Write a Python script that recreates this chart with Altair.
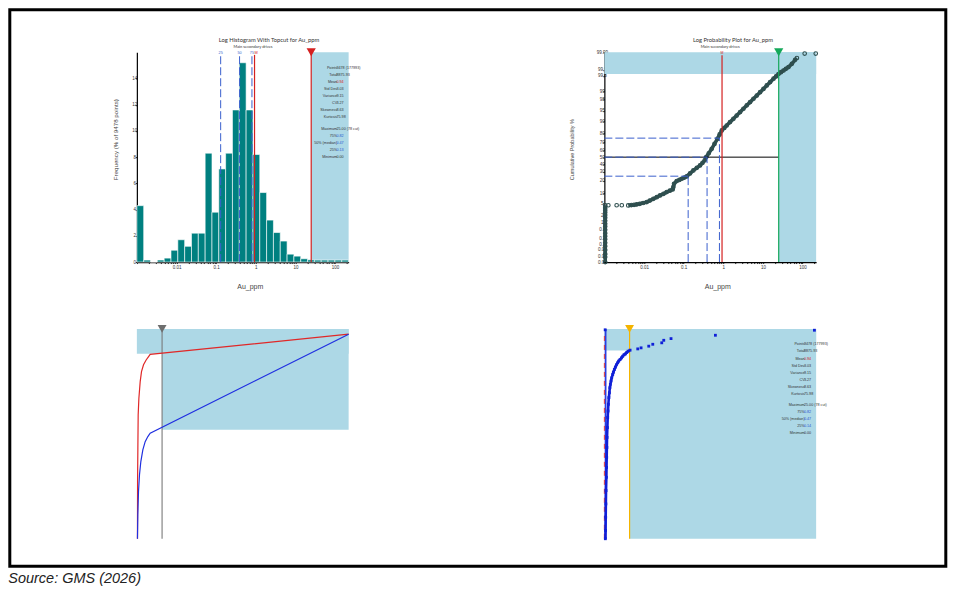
import altair as alt
import pandas as pd
from statistics import NormalDist

FONT = "Liberation Sans"
TFONT = "Lato"
W, H = 212, 210

# ---------------- shared values ----------------
TOPCUT = 25.0
MEAN_AU = 0.93
LOG_DOMAIN = [0.001, 220.0]
LIN_DOMAIN = [0.0, 210.0]
quart_vals = [0.13, 0.39, 0.80]
quart_pcts = [25.0, 50.0, 75.0]
quart_tags = ["25", "50", "75"]

# ---------------- top-left: log histogram ----------------
hist_edges = [0.001, 0.001487, 0.002211, 0.003287, 0.004887, 0.007266, 0.0108, 0.01606,
              0.02388, 0.03551, 0.0528, 0.0785, 0.1167, 0.1735, 0.258, 0.3836, 0.5703,
              0.848, 1.261, 1.875, 2.787, 4.144, 6.162, 9.162, 13.62, 20.25, 30.11,
              44.77, 66.56, 98.97, 147.1, 218.8]
hist_freq = [4.3, 0.15, 0.0, 0.15, 0.3, 0.9, 1.7, 1.2, 2.2, 2.2, 8.3, 3.8, 7.1, 8.3,
             11.6, 15.2, 11.6, 8.2, 5.3, 3.2, 2.25, 1.6, 0.6, 0.45, 0.25, 0.17, 0.15,
             0.15, 0.15, 0.15, 0.15]
HIST_YMAX = 16
hist_yticks = [0, 2, 4, 6, 8, 10, 12, 14]

# ---------------- top-right: log probability plot ----------------
prob_tick_pcts = [0.01, 0.02, 0.05, 0.1, 0.2, 0.5, 1, 2, 5, 10, 20, 30, 40, 50, 60, 70,
                  80, 90, 95, 98, 99, 99.8, 99.9, 99.99]
prob_tick_labels = ["0.01", "0.02", "0.05", "0.1", "0.2", "0.5", "1", "2", "5", "10", "20",
                    "30", "40", "50", "60", "70", "80", "90", "95", "98", "99", "99.8",
                    "99.9", "99.99"]
PP_CUT_PCT = 99.84
pp_x = ([0.00105] * 19 +
        [0.00126, 0.00204, 0.00275] +
        [0.0040, 0.0048, 0.0056, 0.0065, 0.0078, 0.0095, 0.0117, 0.0140, 0.0172, 0.0210,
         0.0254, 0.0310, 0.0373, 0.0450, 0.0529, 0.0550, 0.0572, 0.0668, 0.0780, 0.0894,
         0.1040, 0.1197, 0.145, 0.176, 0.215, 0.259, 0.30, 0.34, 0.37, 0.43, 0.511, 0.60,
         0.711, 0.81, 0.915, 1.06, 1.22, 1.48, 1.80, 2.18, 2.66, 3.22, 3.92, 4.75, 5.77,
         7.0, 8.49, 10.3, 12.5, 15.2, 18.5, 21.4, 24.7, 28.5, 33.0, 38.0, 44.2, 53.7,
         64.9, 72.0] +
        [113.0, 215.0])
pp_p = ([0.01, 0.02, 0.03, 0.05, 0.08, 0.12, 0.18, 0.25, 0.35, 0.5, 0.7, 0.9, 1.2, 1.6,
         2.0, 2.5, 3.0, 3.6, 4.34] +
        [4.4, 4.4, 4.4] +
        [4.34, 4.45, 4.55, 4.68, 4.9, 5.2, 5.54, 6.2, 6.99, 7.8, 8.72, 9.7, 10.75, 11.7,
         12.6, 14.5, 17.3, 19.8, 21.0, 22.2, 23.4, 24.7, 28.2, 31.9, 35.2, 38.4, 42.0,
         45.5, 50.0, 55.5, 61.6, 68.0, 74.2, 79.0, 82.8, 85.0, 86.9, 89.3, 91.3, 93.0,
         94.5, 95.7, 96.7, 97.45, 98.08, 98.55, 98.94, 99.22, 99.45, 99.61, 99.73, 99.79,
         99.84, 99.87, 99.894, 99.913, 99.930, 99.953, 99.972, 99.978] +
        [99.988, 99.988])
pp_seg = [0] * 19 + [2] * 3 + [1] * 60 + [2] * 2

# ---------------- bottom-left: cumulative curves ----------------
bl_red_x = [0.6, 0.7, 1.0, 1.3, 2.0, 3.3, 4.6, 6.6, 9.2, 11.6, 13.2, 210.0]
bl_red_y = [0, 27.3, 43.2, 59.0, 67.0, 74.9, 79.7, 82.9, 85.2, 86.8, 87.9, 97.5]
bl_blue_x = [0.6, 0.96, 1.62, 2.61, 3.94, 5.92, 8.24, 10.9, 13.2, 210.0]
bl_blue_y = [0, 11.4, 22.5, 30.5, 36.8, 42.4, 46.3, 48.7, 50.3, 97.5]
BL_RED_CUT = 88.2
BL_BLUE_CUT = 52.0

# ---------------- bottom-right: sorted values ----------------
br_x = [0.99, 1.16, 1.32, 1.49, 1.65, 1.98, 2.15, 2.31, 2.48, 2.65, 2.98, 3.31, 3.64, 3.97,
        4.46, 4.96, 5.46, 5.95, 6.61, 7.27, 8.27, 8.93, 9.92, 10.9, 11.9, 13.2, 14.2, 15.5,
        16.9, 18.2, 19.5, 20.8, 22.2, 23.5, 25.5,
        33.1, 36.4, 44.0, 48.0, 56.9, 58.9, 66.1, 110.1, 208.3, 0.8]
br_y = [0, 3.96, 10.3, 16.6, 22.96, 29.3, 34.0, 38.8, 43.5, 48.3, 53.0, 57.8, 60.9, 64.1,
        67.3, 69.6, 72.0, 73.6, 75.2, 76.7, 78.3, 79.4, 80.7, 81.8, 82.9, 83.9, 84.7, 85.4,
        86.2, 87.0, 87.7, 88.1, 88.8, 89.4, 89.9,
        90.5, 91.0, 91.8, 92.7, 93.4, 94.6, 95.4, 97.0, 99.4, 99.6]
br_seg = [1] * 35 + [2] * 10
BR_CUT = 89.7

# ---------------- statistics block ----------------
stat_labels = ["Points", "Total", "Mean", "Std Dev", "Variance", "CV", "Skewness",
               "Kurtosis", "Maximum", "75%", "50% (median)", "25%", "Minimum"]
stat_kinds = ["plain", "plain", "mean", "plain", "plain", "plain", "plain", "plain",
              "plain", "quart", "quart", "quart", "plain"]
stat_values_tl = ["9478 (177993)", "8875.93", "0.94", "3.03", "9.15", "3.27", "8.63",
                  "75.98", "25.00 (78 cut)", "0.82", "0.47", "0.13", "0.00"]
stat_values_br = ["9478 (177993)", "8875.93", "0.94", "3.03", "9.15", "3.27", "8.63",
                  "75.98", "25.00 (78 cut)", "0.82", "0.47", "0.14", "0.00"]

RED = "#D42020"
QBLUE = "#3A5FCD"
LBLUE = "#ADD8E6"
GREEN = "#14A85A"
GOLD = "#F4B400"
GRAY = "#7A7A7A"
TEAL = "#008080"
SLATE = "#2F4F4F"

nd = NormalDist()


def zval(p):
    return round(nd.inv_cdf(p / 100.0), 4)


ZMIN, ZMAX = zval(0.01), zval(99.99)
prob_ticks = [zval(p) for p in prob_tick_pcts]

log_ticks = sorted({round(m * 10.0 ** e, 6) for e in range(-3, 3) for m in range(1, 10)
                    if LOG_DOMAIN[0] <= m * 10.0 ** e <= LOG_DOMAIN[1]})
log_label_expr = ("indexof([0.01,0.1,1,10,100], datum.value) >= 0 ? "
                  "format(datum.value, '~g') : ''")


def log_axis():
    return alt.Axis(values=log_ticks, labelExpr=log_label_expr, labelOverlap=False,
                    labelFontSize=4.5, labelColor="#333", labelPadding=1, tickSize=1.5,
                    tickColor="#222", domainColor="black", domainWidth=1.2, grid=False,
                    title="Au_ppm", titleFontSize=7, titleFontWeight="normal",
                    titleColor="#444", titleX=113, titleY=24.5, titleAlign="center",
                    titleBaseline="middle", labelFlush=False)


def one(**kw):
    return pd.DataFrame({k: [v] for k, v in kw.items()})


def text_at(txt, px, py, size, color="#333", font=TFONT, **kw):
    return alt.Chart(one(t=txt)).mark_text(fontSize=size, font=font, color=color,
                                           baseline="middle", **kw).encode(
        x=alt.value(px), y=alt.value(py), text="t:N")


def stats_layer(values, yscale, yaxis, ymax):
    df = pd.DataFrame({"label": stat_labels, "value": values, "kind": stat_kinds,
                       "row": list(range(len(stat_labels)))})
    base = alt.Chart(df).transform_calculate(
        ypix="15.5 + datum.row * 7.05 + (datum.row >= 8 ? 4.5 : 0)"
    ).transform_calculate(
        yv=f"{ymax} - datum.ypix * {ymax} / {H}",
        col=f"datum.kind == 'mean' ? '{RED}' : (datum.kind == 'quart' ? '#2A55D0' : '#333333')"
    )
    lab = base.mark_text(align="right", baseline="middle", fontSize=3.7, font=FONT,
                         color="#333").encode(
        x=alt.value(200.5), y=alt.Y("yv:Q", scale=yscale, axis=yaxis), text="label:N")
    val = base.mark_text(align="left", baseline="middle", fontSize=3.7, font=FONT).encode(
        x=alt.value(199.8), y=alt.Y("yv:Q", scale=yscale, axis=yaxis), text="value:N",
        color=alt.Color("col:N", scale=None))
    return lab + val


# ======================= TOP-LEFT =======================
xs_tl = alt.Scale(type="log", domain=LOG_DOMAIN, nice=False)
ys_tl = alt.Scale(domain=[0, HIST_YMAX], nice=False, zero=False)
xa_tl = log_axis()
ya_tl = alt.Axis(values=hist_yticks, labelFontSize=4.5, labelColor="#333", labelAlign="center",
                 labelBaseline="middle", labelPadding=1, tickSize=1.5, tickColor="#222",
                 domainColor="black", domainWidth=1.2, grid=False,
                 title="Frequency (% of 9478 points)", titleFontSize=6.2,
                 titleFontWeight="normal", titleColor="#444", titleX=-21, titleY=87,
                 titleAngle=-90, titleAlign="center", titleBaseline="middle")


def xtl(f):
    return alt.X(f, type="quantitative", scale=xs_tl, axis=xa_tl)


def ytl(f):
    return alt.Y(f, type="quantitative", scale=ys_tl, axis=ya_tl)


hist_df = pd.DataFrame({"lo": hist_edges[:-1], "hi": hist_edges[1:], "freq": hist_freq,
                        "base": [0] * len(hist_freq)})
q_df = pd.DataFrame({"q": quart_vals, "tag": quart_tags, "pct": quart_pcts})

tl_region = alt.Chart(one(x0=TOPCUT, x1=LOG_DOMAIN[1], y0=0, y1=HIST_YMAX)).mark_rect(
    color=LBLUE).encode(x=xtl("x0"), x2="x1", y=ytl("y0"), y2="y1")
tl_bars = alt.Chart(hist_df).mark_rect(color=TEAL, stroke="white", strokeWidth=0.6).encode(
    x=xtl("lo"), x2="hi", y=ytl("base"), y2="freq")
tl_quart = alt.Chart(q_df).transform_calculate(y0="0", y1="15.75").mark_rule(
    color=QBLUE, strokeDash=[8, 3], strokeWidth=1).encode(x=xtl("q"), y=ytl("y0:Q"), y2="y1:Q")
tl_mean = alt.Chart(one(x=MEAN_AU, y0=0, y1=15.8)).mark_rule(color=RED, strokeWidth=1.2).encode(
    x=xtl("x"), y=ytl("y0"), y2="y1")
tl_cut = alt.Chart(one(x=TOPCUT, y0=0, y1=HIST_YMAX)).mark_rule(color=RED, strokeWidth=1.2).encode(
    x=xtl("x"), y=ytl("y0"), y2="y1")
tl_tri = alt.Chart(one(x=TOPCUT, y=HIST_YMAX)).mark_point(
    shape="triangle-down", filled=True, size=85, color=RED, opacity=1).encode(
    x=xtl("x"), y=ytl("y"))
tl_qlab = alt.Chart(q_df).transform_calculate(y="16").mark_text(
    fontSize=3.8, font=FONT, color=QBLUE, baseline="middle", dy=0.5).encode(
    x=xtl("q"), y=ytl("y:Q"), text="tag:N")
tl_mlab = alt.Chart(one(x=MEAN_AU, y=HIST_YMAX, t="M")).mark_text(
    fontSize=3.8, font=FONT, color=RED, baseline="middle", dy=0.5, dx=1.5).encode(
    x=xtl("x"), y=ytl("y"), text="t:N")
tl_border = alt.Chart(one(k=1)).mark_rect(fillOpacity=0, stroke="black", strokeWidth=3).encode(
    x=alt.value(-127.2), x2=alt.value(809.8), y=alt.value(-42.5), y2=alt.value(514.5))
tl_title = text_at("Log Histogram With Topcut for Au_ppm", 132.3, -12.7, 5.8)
tl_sub = text_at("Main secondary drives", 116.3, -5.3, 4)

tl = alt.layer(tl_region, tl_bars, tl_quart, tl_mean, tl_cut, tl_tri, tl_qlab, tl_mlab,
               stats_layer(stat_values_tl, ys_tl, ya_tl, HIST_YMAX),
               tl_title, tl_sub, tl_border).properties(width=W, height=H)

# ======================= TOP-RIGHT =======================
xs_tr = alt.Scale(type="log", domain=LOG_DOMAIN, nice=False)
ys_tr = alt.Scale(domain=[ZMIN, ZMAX], nice=False, zero=False)
xa_tr = log_axis()
prob_label_expr = ("[" + ",".join(f"'{s}'" for s in prob_tick_labels) + "][indexof(["
                   + ",".join(repr(v) for v in prob_ticks) + "], datum.value)]")
ya_tr = alt.Axis(values=prob_ticks, labelExpr=prob_label_expr, labelOverlap=False,
                 labelFontSize=4.6, labelColor="#333", labelAlign="center",
                 labelBaseline="middle", labelPadding=1, tickSize=1.5, tickColor="#222",
                 domainColor="black", domainWidth=1.2, grid=False,
                 title="Cumulative Probability %", titleFontSize=5.5,
                 titleFontWeight="normal", titleColor="#444", titleX=-32.6, titleY=97,
                 titleAngle=-90, titleAlign="center", titleBaseline="middle")


def xtr(f):
    return alt.X(f, type="quantitative", scale=xs_tr, axis=xa_tr)


def ytr(f):
    return alt.Y(f, type="quantitative", scale=ys_tr, axis=ya_tr)


pp_df = pd.DataFrame({"x": pp_x, "z": [zval(p) for p in pp_p], "seg": pp_seg,
                      "i": list(range(len(pp_x)))})
qz_df = pd.DataFrame({"q": quart_vals, "z": [zval(p) for p in quart_pcts],
                      "x0": [LOG_DOMAIN[0]] * 3, "zb": [ZMIN] * 3})

tr_band = alt.Chart(one(x0=LOG_DOMAIN[0], x1=LOG_DOMAIN[1], y0=zval(PP_CUT_PCT), y1=ZMAX)).mark_rect(
    color=LBLUE).encode(x=xtr("x0"), x2="x1", y=ytr("y0"), y2="y1")
tr_region = alt.Chart(one(x0=TOPCUT, x1=LOG_DOMAIN[1], y0=ZMIN, y1=ZMAX)).mark_rect(
    color=LBLUE).encode(x=xtr("x0"), x2="x1", y=ytr("y0"), y2="y1")
tr_line = alt.Chart(pp_df).transform_filter("datum.seg != 2").mark_line(
    color=SLATE, strokeWidth=3.6).encode(x=xtr("x"), y=ytr("z"), detail="seg:N", order="i:Q")
tr_pts = alt.Chart(pp_df).mark_point(shape="circle", filled=False, size=13, color=SLATE,
                                     strokeWidth=1.1, opacity=1).encode(x=xtr("x"), y=ytr("z"))
tr_med = alt.Chart(one(x0=LOG_DOMAIN[0], x1=TOPCUT, y=0.0)).mark_rule(
    color="black", strokeWidth=1).encode(x=xtr("x0"), x2="x1", y=ytr("y"))
tr_qh = alt.Chart(qz_df).mark_rule(color=QBLUE, strokeDash=[8, 3], strokeWidth=1).encode(
    x=xtr("x0"), x2="q", y=ytr("z"))
tr_qv = alt.Chart(qz_df).mark_rule(color=QBLUE, strokeDash=[8, 3], strokeWidth=1).encode(
    x=xtr("q"), y=ytr("zb"), y2="z")
tr_mean = alt.Chart(one(x=MEAN_AU, y0=ZMIN, y1=3.61)).mark_rule(color=RED, strokeWidth=1.2).encode(
    x=xtr("x"), y=ytr("y0"), y2="y1")
tr_cut = alt.Chart(one(x=TOPCUT, y0=ZMIN, y1=ZMAX)).mark_rule(color=GREEN, strokeWidth=1.2).encode(
    x=xtr("x"), y=ytr("y0"), y2="y1")
tr_tri = alt.Chart(one(x=TOPCUT, y=ZMAX)).mark_point(
    shape="triangle-down", filled=True, size=85, color=GREEN, opacity=1).encode(
    x=xtr("x"), y=ytr("y"))
tr_mlab = alt.Chart(one(x=MEAN_AU, y=ZMAX, t="M")).mark_text(
    fontSize=3.5, font=FONT, color=RED, baseline="middle", dy=1).encode(
    x=xtr("x"), y=ytr("y"), text="t:N")
tr_title = text_at("Log Probability Plot for Au_ppm", 128.7, -12.4, 5.8)
tr_sub = text_at("Main secondary drives", 116, -5, 4)

tr = alt.layer(tr_band, tr_region, tr_line, tr_pts, tr_med, tr_qh, tr_qv, tr_mean, tr_cut,
               tr_tri, tr_mlab, tr_title, tr_sub).properties(width=W, height=H)

# ======================= BOTTOM-LEFT =======================
xs_lin = alt.Scale(domain=LIN_DOMAIN, nice=False, zero=False)
ys_pct = alt.Scale(domain=[0, 100], nice=False, zero=False)


def xl(f):
    return alt.X(f, type="quantitative", scale=xs_lin, axis=None)


def yl(f):
    return alt.Y(f, type="quantitative", scale=ys_pct, axis=None)


bl_band = alt.Chart(one(x0=LIN_DOMAIN[0], x1=LIN_DOMAIN[1], y0=BL_RED_CUT, y1=100)).mark_rect(
    color=LBLUE).encode(x=xl("x0"), x2="x1", y=yl("y0"), y2="y1")
bl_region = alt.Chart(one(x0=TOPCUT, x1=LIN_DOMAIN[1], y0=BL_BLUE_CUT, y1=100)).mark_rect(
    color=LBLUE).encode(x=xl("x0"), x2="x1", y=yl("y0"), y2="y1")
bl_cut = alt.Chart(one(x=TOPCUT, y0=0, y1=101.2)).mark_rule(color=GRAY, strokeWidth=1.1).encode(
    x=xl("x"), y=yl("y0"), y2="y1")
bl_tri = alt.Chart(one(x=TOPCUT, y=100)).mark_point(
    shape="triangle-down", filled=True, size=80, color="#6E6E6E", opacity=1).encode(
    x=xl("x"), y=yl("y"))
bl_red = alt.Chart(pd.DataFrame({"x": bl_red_x, "y": bl_red_y, "i": range(len(bl_red_x))})).mark_line(
    color="#E02828", strokeWidth=1.2).encode(x=xl("x"), y=yl("y"), order="i:Q")
bl_blue = alt.Chart(pd.DataFrame({"x": bl_blue_x, "y": bl_blue_y, "i": range(len(bl_blue_x))})).mark_line(
    color="#2030E0", strokeWidth=1.2).encode(x=xl("x"), y=yl("y"), order="i:Q")
bl_source = text_at("Source: GMS (2026)", -128.7, 250.5, 14.5, color="#222", font=FONT,
                    align="left", fontStyle="italic")

bl = alt.layer(bl_band, bl_region, bl_cut, bl_tri, bl_red, bl_blue, bl_source).properties(
    width=W, height=H)

# ======================= BOTTOM-RIGHT =======================
br_df = pd.DataFrame({"x": br_x, "y": br_y, "seg": br_seg, "i": range(len(br_x))})
br_band = alt.Chart(one(x0=LIN_DOMAIN[0], x1=LIN_DOMAIN[1], y0=BR_CUT, y1=100)).mark_rect(
    color=LBLUE).encode(x=xl("x0"), x2="x1", y=yl("y0"), y2="y1")
br_region = alt.Chart(one(x0=TOPCUT, x1=LIN_DOMAIN[1], y0=0, y1=100)).mark_rect(
    color=LBLUE).encode(x=xl("x0"), x2="x1", y=yl("y0"), y2="y1")
br_cut = alt.Chart(one(x=TOPCUT, y0=0, y1=101.2)).mark_rule(color=GOLD, strokeWidth=1.2).encode(
    x=xl("x"), y=yl("y0"), y2="y1")
br_tri = alt.Chart(one(x=TOPCUT, y=100)).mark_point(
    shape="triangle-down", filled=True, size=80, color=GOLD, opacity=1).encode(
    x=xl("x"), y=yl("y"))
br_vblue = alt.Chart(one(x=1.2, y0=0, y1=100)).mark_rule(color="#2A3FE0", strokeWidth=1.8).encode(
    x=xl("x"), y=yl("y0"), y2="y1")
br_vred = alt.Chart(one(x=0.0, y0=0, y1=98)).mark_rule(
    color="#E02828", strokeWidth=0.9, strokeDash=[5, 4]).encode(x=xl("x"), y=yl("y0"), y2="y1")
br_line = alt.Chart(br_df).transform_filter("datum.seg == 1").mark_line(
    color="#1020D8", strokeWidth=2.6).encode(x=xl("x"), y=yl("y"), order="i:Q")
br_pts = alt.Chart(br_df).mark_square(size=8, color="#1020D8", opacity=1).encode(
    x=xl("x"), y=yl("y"))

br = alt.layer(br_band, br_region, br_cut, br_tri, br_vblue, br_vred, br_line, br_pts,
               stats_layer(stat_values_br, ys_pct, None, 100)).properties(width=W, height=H)

chart = alt.ConcatChart(concat=[tl, tr, bl, br], columns=2,
                        spacing={"row": 67, "column": 256}, bounds="flush").properties(
    padding=0
).configure_view(strokeWidth=0).configure_axis(labelFont=FONT, titleFont=FONT, grid=False)

chart.save("out.html", embed_options={"renderer": "svg", "actions": False})
